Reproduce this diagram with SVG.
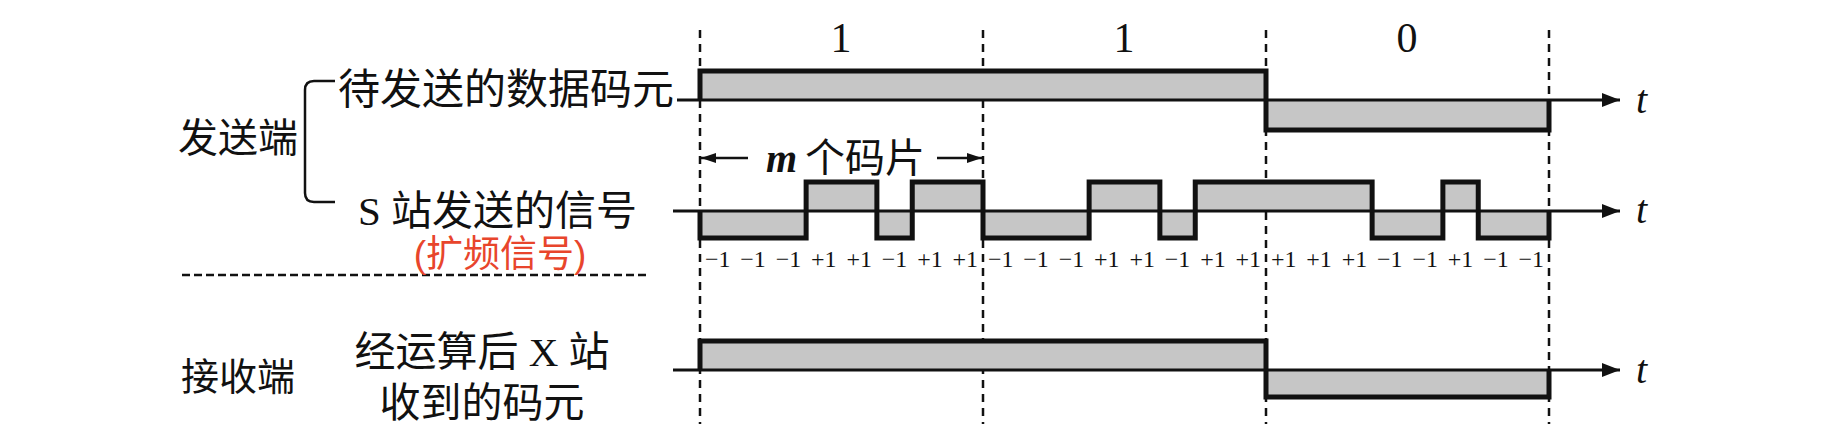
<svg xmlns="http://www.w3.org/2000/svg" width="1842" height="448" viewBox="0 0 1842 448">
<style>
.cjk{font-family:"Noto Sans CJK SC",sans-serif;fill:#111}
.mix{font-family:"Liberation Serif","Noto Sans CJK SC",serif;fill:#111}
.num{font-family:"Liberation Serif",serif;fill:#111}
.it{font-family:"Liberation Serif",serif;font-style:italic;fill:#111}
.red{font-family:"Liberation Sans","Noto Sans CJK SC",sans-serif;fill:#e8452c}
.chip{font-family:"Liberation Serif",serif;font-size:24px;fill:#111;text-anchor:middle}
.grid{stroke:#111;stroke-width:2.5;stroke-dasharray:8 6;fill:none}
.sep{stroke:#111;stroke-width:2.5;stroke-dasharray:8 4;fill:none}
.axis{stroke:#111;stroke-width:3;fill:none}
.wave{stroke:#111;stroke-width:5;fill:none;stroke-linejoin:miter}
.shade{fill:#c6c6c6;stroke:none}
.thin{stroke:#111;stroke-width:2.5;fill:none}
</style>
<defs>
<marker id="ah" markerUnits="userSpaceOnUse" viewBox="0 0 18 14" refX="18" refY="7" markerWidth="18" markerHeight="14" orient="auto">
<path d="M0,0 L18,7 L0,14 Z" fill="#111"/>
</marker>
<marker id="ahs" markerUnits="userSpaceOnUse" viewBox="0 0 15 10" refX="15" refY="5" markerWidth="15" markerHeight="10" orient="auto">
<path d="M0,0 L15,5 L0,10 Z" fill="#111"/>
</marker>
</defs>
<rect width="1842" height="448" fill="#fff"/>

<g id="bit-grid">
<line class="grid" x1="700" y1="30" x2="700" y2="424"/>
<line class="grid" x1="983" y1="30" x2="983" y2="424"/>
<line class="grid" x1="1266" y1="30" x2="1266" y2="424"/>
<line class="grid" x1="1549" y1="30" x2="1549" y2="424"/>
<line class="sep" x1="182" y1="275" x2="650" y2="275"/>
</g>

<g id="bit-labels">
<text class="num" x="841" y="52" font-size="42" text-anchor="middle">1</text>
<text class="num" x="1124" y="52" font-size="42" text-anchor="middle">1</text>
<text class="num" x="1407" y="52" font-size="42" text-anchor="middle">0</text>
</g>

<g id="sender">
<text class="cjk" x="178" y="152" font-size="40">发送端</text>
<path class="thin" d="M335,81 H314 Q305,81 305,90 V193 Q305,202 314,202 H335" stroke-width="3"/>
</g>

<g id="data-row">
<text class="cjk" x="338" y="104" font-size="42">待发送的数据码元</text>
<path class="shade" d="M700,100 V71 H1266 V130 H1549 V100 Z"/>
<path class="wave" d="M700,100 V71 H1266 V130 H1549 V100"/>
<text class="it" x="1636" y="113" font-size="40">t</text>
</g>

<g id="signal-row">
<text class="mix" x="358" y="225" font-size="41">S 站发送的信号</text>
<text class="red" x="500" y="267" font-size="37" text-anchor="middle">(扩频信号)</text>
<path class="shade" d="M700,211 V238 H806.125 V182 H876.875 V238 H912.25 V182 H983 V238 H1089.125 V182 H1159.875 V238 H1195.25 V182 H1372.125 V238 H1442.875 V182 H1478.25 V238 H1549 V211 Z"/>
<path class="wave" d="M700,211 V238 H806.125 V182 H876.875 V238 H912.25 V182 H983 V238 H1089.125 V182 H1159.875 V238 H1195.25 V182 H1372.125 V238 H1442.875 V182 H1478.25 V238 H1549 V211"/>
<text class="it" x="1636" y="223" font-size="40">t</text>
<g id="chip-values">
<text class="chip" x="717.7" y="267">−1</text>
<text class="chip" x="753.1" y="267">−1</text>
<text class="chip" x="788.4" y="267">−1</text>
<text class="chip" x="823.8" y="267">+1</text>
<text class="chip" x="859.2" y="267">+1</text>
<text class="chip" x="894.6" y="267">−1</text>
<text class="chip" x="929.9" y="267">+1</text>
<text class="chip" x="965.3" y="267">+1</text>
<text class="chip" x="1000.7" y="267">−1</text>
<text class="chip" x="1036.1" y="267">−1</text>
<text class="chip" x="1071.4" y="267">−1</text>
<text class="chip" x="1106.8" y="267">+1</text>
<text class="chip" x="1142.2" y="267">+1</text>
<text class="chip" x="1177.6" y="267">−1</text>
<text class="chip" x="1212.9" y="267">+1</text>
<text class="chip" x="1248.3" y="267">+1</text>
<text class="chip" x="1283.7" y="267">+1</text>
<text class="chip" x="1319.1" y="267">+1</text>
<text class="chip" x="1354.4" y="267">+1</text>
<text class="chip" x="1389.8" y="267">−1</text>
<text class="chip" x="1425.2" y="267">−1</text>
<text class="chip" x="1460.6" y="267">+1</text>
<text class="chip" x="1495.9" y="267">−1</text>
<text class="chip" x="1531.3" y="267">−1</text>
</g>
<text class="it" x="766" y="172" font-size="40" font-weight="bold">m</text>
<text class="cjk" x="805" y="172" font-size="40">个码片</text>
</g>

<g id="receiver-row">
<text class="cjk" x="181" y="390" font-size="38">接收端</text>
<text class="mix" x="482" y="366" font-size="41" text-anchor="middle">经运算后 X 站</text>
<text class="mix" x="482" y="417" font-size="41" text-anchor="middle">收到的码元</text>
<path class="shade" d="M700,370 V341 H1266 V397 H1549 V370 Z"/>
<path class="wave" d="M700,370 V341 H1266 V397 H1549 V370"/>
<text class="it" x="1636" y="383" font-size="40">t</text>
</g>

<g id="connectors">
<line class="axis" x1="677" y1="100" x2="1620" y2="100" marker-end="url(#ah)"/>
<line class="axis" x1="673" y1="211" x2="1620" y2="211" marker-end="url(#ah)"/>
<line class="axis" x1="673" y1="370" x2="1620" y2="370" marker-end="url(#ah)"/>
<line class="thin" x1="748" y1="158" x2="701" y2="158" marker-end="url(#ahs)"/>
<line class="thin" x1="937" y1="158" x2="982" y2="158" marker-end="url(#ahs)"/>
</g>
</svg>
